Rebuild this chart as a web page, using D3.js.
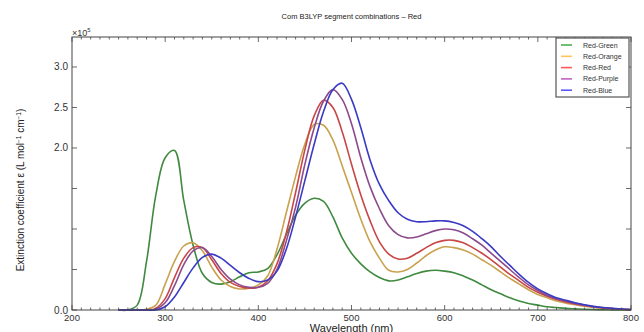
<!DOCTYPE html>
<html>
<head>
<meta charset="utf-8">
<script src="https://cdn.jsdelivr.net/npm/d3@7/dist/d3.min.js"></script>
<style>
  body { margin: 0; background: #fff; }
  text { font-family: "Liberation Sans", Arial, sans-serif; fill: #222; }
</style>
</head>
<body>
<script>
// wavelength grid (nm) shared by every series
const wavelengths = [250, 260, 270, 280, 290, 300, 310, 320, 330, 340,
  350, 360, 370, 380, 390, 400, 410, 420, 430, 440,
  450, 460, 470, 480, 490, 500, 510, 520, 530, 540,
  550, 560, 570, 580, 590, 600, 610, 620, 630, 640,
  650, 660, 670, 680, 690, 700, 710, 720, 730, 740,
  750, 760, 770, 780, 790, 800];

// extinction coefficient, units of 1e5 L mol-1 cm-1
const redGreen = [0, 0, 0.06, 0.6, 1.42, 1.88, 1.97, 1.35, 0.8, 0.45,
  0.34, 0.32, 0.35, 0.41, 0.46, 0.47, 0.51, 0.68, 0.93, 1.17,
  1.32, 1.38, 1.34, 1.15, 0.89, 0.7, 0.57, 0.47, 0.4, 0.36,
  0.37, 0.41, 0.45, 0.48, 0.49, 0.48, 0.46, 0.42, 0.37, 0.31,
  0.25, 0.2, 0.15, 0.11, 0.08, 0.06, 0.04, 0.03, 0.02, 0.014,
  0.009, 0.006, 0.004, 0.002, 0.001, 0];
const redOrange = [0, 0, 0, 0.01, 0.06, 0.32, 0.6, 0.79, 0.83, 0.73,
  0.53, 0.37, 0.29, 0.26, 0.27, 0.31, 0.42, 0.75, 1.2, 1.65,
  2.05, 2.29, 2.28, 2.1, 1.78, 1.45, 1.12, 0.84, 0.64, 0.49,
  0.47, 0.5, 0.58, 0.67, 0.74, 0.78, 0.77, 0.74, 0.69, 0.62,
  0.55, 0.47, 0.39, 0.32, 0.25, 0.19, 0.15, 0.11, 0.085, 0.065,
  0.048, 0.033, 0.022, 0.014, 0.008, 0.004];
const redRed = [0, 0, 0, 0, 0.02, 0.14, 0.4, 0.64, 0.77, 0.77,
  0.62, 0.45, 0.34, 0.29, 0.27, 0.28, 0.36, 0.57, 0.95, 1.45,
  1.98, 2.4, 2.59, 2.5, 2.2, 1.8, 1.42, 1.1, 0.84, 0.69,
  0.63, 0.64, 0.7, 0.77, 0.83, 0.86, 0.86, 0.83, 0.77, 0.7,
  0.62, 0.53, 0.44, 0.36, 0.28, 0.22, 0.17, 0.13, 0.1, 0.075,
  0.055, 0.038, 0.026, 0.016, 0.009, 0.005];
const redPurple = [0, 0, 0, 0, 0.01, 0.09, 0.3, 0.56, 0.73, 0.77,
  0.66, 0.5, 0.38, 0.31, 0.28, 0.28, 0.33, 0.5, 0.85, 1.27,
  1.8, 2.25, 2.58, 2.72, 2.6, 2.3, 1.88, 1.52, 1.25, 1.04,
  0.93, 0.89, 0.9, 0.94, 0.98, 1.0, 0.99, 0.95, 0.88, 0.8,
  0.7, 0.6, 0.5, 0.4, 0.31, 0.24, 0.18, 0.14, 0.11, 0.08,
  0.06, 0.04, 0.028, 0.018, 0.01, 0.005];
const redBlue = [0, 0, 0, 0, 0, 0.04, 0.16, 0.34, 0.52, 0.65,
  0.69, 0.64, 0.55, 0.46, 0.39, 0.35, 0.37, 0.48, 0.75, 1.15,
  1.6, 2.05, 2.45, 2.72, 2.8, 2.6, 2.25, 1.85, 1.55, 1.35,
  1.2, 1.12, 1.09, 1.09, 1.1, 1.1, 1.08, 1.04, 0.97, 0.88,
  0.78, 0.66, 0.55, 0.44, 0.34, 0.26, 0.2, 0.15, 0.12, 0.09,
  0.065, 0.045, 0.03, 0.02, 0.012, 0.006];

const seriesNames = ["Red-Green", "Red-Orange", "Red-Red", "Red-Purple", "Red-Blue"];
const seriesValues = [redGreen, redOrange, redRed, redPurple, redBlue];
const lineColors = ["#3f8a3f", "#c9a24e", "#c94646", "#8c4a8c", "#3a3ac4"];
const legendColors = ["#4caf50", "#ffc45a", "#ff5a5a", "#c063c0", "#5a5aff"];

const xTicks = [200, 300, 400, 500, 600, 700, 800];
const yTickLabels = [0, 2.0, 2.5, 3.0];

const width = 644;
const height = 332;
const margin = {left: 72, right: 13, top: 37, bottom: 22};

const svg = d3.select('body').append('svg')
  .attr('width', width)
  .attr('height', height);

const x = d3.scaleLinear()
  .domain([200, 800])
  .range([margin.left, width - margin.right]);
const y = d3.scaleLinear()
  .domain([0, 3.37])
  .range([height - margin.bottom, margin.top]);

// title
svg.append('text')
  .attr('x', (x.range()[0] + x.range()[1]) / 2)
  .attr('y', 19)
  .attr('text-anchor', 'middle')
  .style('font-size', '7.5px')
  .text('Com B3LYP segment combinations \u2013 Red');

// curves
const line = d3.line()
  .x((d, i) => x(wavelengths[i]))
  .y((d) => y(d))
  .curve(d3.curveCatmullRom.alpha(0.5));

svg.append('g').selectAll('path')
  .data(seriesValues)
  .join('path')
    .attr('d', (d) => line(d))
    .attr('fill', 'none')
    .attr('stroke', (d, i) => lineColors[i])
    .attr('stroke-width', 1.6);

// frame
const x0 = x.range()[0], x1 = x.range()[1];
const y0 = y.range()[0], y1 = y.range()[1];
svg.append('rect')
  .attr('x', x0).attr('y', y1)
  .attr('width', x1 - x0).attr('height', y0 - y1)
  .attr('fill', 'none')
  .attr('stroke', '#444')
  .attr('stroke-width', 1);

// inward ticks, bottom / top / left / right
const tickG = svg.append('g').attr('stroke', '#444').attr('stroke-width', 0.8);
const minorX = d3.range(200, 801, 10);
minorX.forEach((w) => {
  const len = (w % 100 === 0) ? 5 : 2.5;
  tickG.append('line').attr('x1', x(w)).attr('x2', x(w)).attr('y1', y0).attr('y2', y0 - len);
  tickG.append('line').attr('x1', x(w)).attr('x2', x(w)).attr('y1', y1).attr('y2', y1 + len);
});
y.ticks(7).forEach((v) => {
  tickG.append('line').attr('x1', x0).attr('x2', x0 + 5).attr('y1', y(v)).attr('y2', y(v));
  tickG.append('line').attr('x1', x1).attr('x2', x1 - 5).attr('y1', y(v)).attr('y2', y(v));
});

// tick labels
svg.append('g').selectAll('text')
  .data(xTicks)
  .join('text')
    .attr('x', (d) => x(d))
    .attr('y', y0 + 10.5)
    .attr('text-anchor', 'middle')
    .style('font-size', '9.5px')
    .style('fill', '#333')
    .text((d) => d);

svg.append('g').selectAll('text')
  .data(yTickLabels)
  .join('text')
    .attr('x', x0 - 4)
    .attr('y', (d) => y(d) + 3.5)
    .attr('text-anchor', 'end')
    .style('font-size', '10px')
    .style('fill', '#333')
    .text((d) => d3.format('.1f')(d));

// offset label
const off = svg.append('text')
  .attr('x', x0)
  .attr('y', y1 - 1)
  .style('font-size', '9px')
  .style('fill', '#333');
off.append('tspan').text('\u00d710');
off.append('tspan').attr('dy', -4).style('font-size', '6px').text('5');

// axis labels
svg.append('text')
  .attr('x', (x0 + x1) / 2)
  .attr('y', 332)
  .attr('text-anchor', 'middle')
  .style('font-size', '11px')
  .text('Wavelength (nm)');

const yl = svg.append('text')
  .attr('transform', 'translate(24,190) rotate(-90)')
  .attr('text-anchor', 'middle')
  .style('font-size', '10px');
yl.append('tspan').text('Extinction coefficient \u03b5 (L mol');
yl.append('tspan').attr('dy', -3).style('font-size', '6.5px').text('\u22121');
yl.append('tspan').attr('dy', 3).text(' cm');
yl.append('tspan').attr('dy', -3).style('font-size', '6.5px').text('\u22121');
yl.append('tspan').attr('dy', 3).text(')');

// legend
const lg = svg.append('g').attr('transform', 'translate(556,38)');
lg.append('rect')
  .attr('width', 73).attr('height', 59)
  .attr('fill', '#fff')
  .attr('stroke', '#555')
  .attr('stroke-width', 1.2);
const item = lg.selectAll('g.item')
  .data(seriesNames)
  .join('g')
    .attr('class', 'item')
    .attr('transform', (d, i) => `translate(0,${7 + i * 11.3})`);
item.append('line')
  .attr('x1', 5).attr('x2', 16)
  .attr('stroke', (d, i) => legendColors[i])
  .attr('stroke-width', 1.6);
item.append('text')
  .attr('x', 27)
  .attr('y', 2.5)
  .style('font-size', '7px')
  .style('fill', '#333')
  .text((d) => d);
</script>
</body>
</html>
